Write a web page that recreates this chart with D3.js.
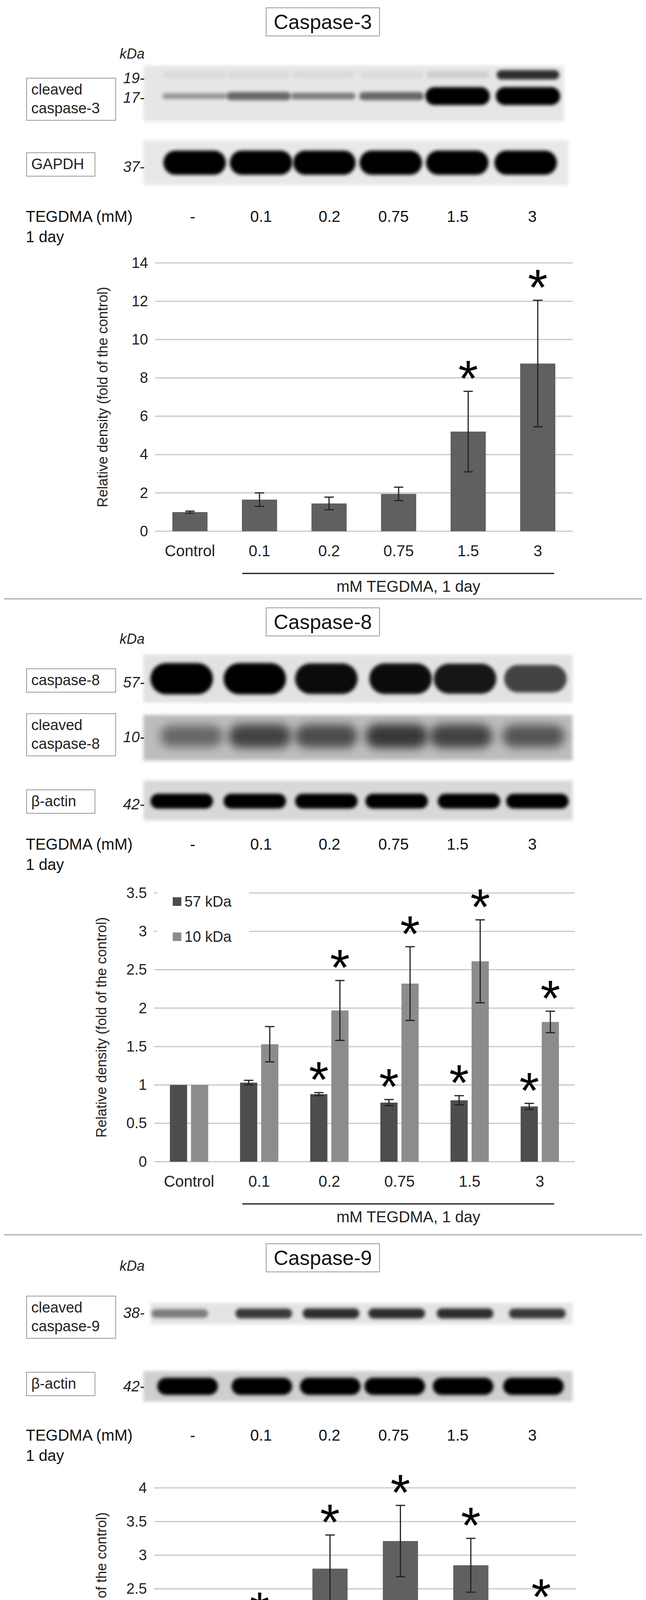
<!DOCTYPE html>
<html><head><meta charset="utf-8">
<script src="https://cdn.jsdelivr.net/npm/d3@7"></script>
<style>body{margin:0;background:#fff}svg{display:block;font-family:"Liberation Sans",Arial,sans-serif}</style>
</head><body><svg id="c" width="1653" height="4671"></svg>
<script>
const categories = ["Control","0.1","0.2","0.75","1.5","3"];
const laneLabels = ["-","0.1","0.2","0.75","1.5","3"];
const casp3Values = [1.0,1.65,1.45,1.95,5.2,8.75];
const casp3Errors = [0.05,0.35,0.33,0.35,2.1,3.3];
const casp3Stars = [false,false,false,false,true,true];
const casp3Ticks = [0,2,4,6,8,10,12,14];
const casp8Values57 = [1.0,1.03,0.88,0.77,0.80,0.72];
const casp8Errors57 = [0.0,0.03,0.02,0.04,0.06,0.04];
const casp8Values10 = [1.0,1.53,1.97,2.32,2.61,1.82];
const casp8Errors10 = [0.0,0.23,0.39,0.48,0.54,0.14];
const casp8Stars57 = [false,false,true,true,true,true];
const casp8Stars10 = [false,false,true,true,true,true];
const casp8Ticks = [0,0.5,1,1.5,2,2.5,3,3.5];
const casp9Values = [1.0,1.87,2.8,3.21,2.85,2.09];
const casp9Errors = [0.01,0.12,0.5,0.53,0.4,0.1];
const casp9Stars = [false,true,true,true,true,true];
const casp9Ticks = [0,0.5,1,1.5,2,2.5,3,3.5,4];
// blot band intensities (0..1) per lane
const blotC3cleaved17 = [0.35,0.55,0.45,0.55,1,1];
const blotC3cleaved19 = [0.05,0.05,0.05,0.05,0.1,0.8];
const blotGAPDH = [1,1,1,1,1,1];
const blotC8 = [1,1,0.95,0.95,0.9,0.7];
const blotC8cleaved = [0.45,0.65,0.6,0.7,0.65,0.55];
const blotActin8 = [1,1,1,1,1,1];
const blotC9cleaved = [0.45,0.75,0.8,0.8,0.8,0.75];
const blotActin9 = [1,1,1,1,1,1];

const svg = d3.select("#c");
const defs = svg.append("defs");
defs.append("filter").attr("id","blur").attr("x","-30%").attr("y","-100%").attr("width","160%").attr("height","300%")
  .append("feGaussianBlur").attr("stdDeviation","4");
defs.append("filter").attr("id","blur2").attr("x","-30%").attr("y","-100%").attr("width","160%").attr("height","300%")
  .append("feGaussianBlur").attr("stdDeviation","12");

function boxLabel(lines, x, y, fs, w, h){
  svg.append("rect").attr("x",x).attr("y",y).attr("width",w).attr("height",h).attr("fill","#fff").attr("stroke","#999").attr("stroke-width",2);
  lines.forEach((t,i)=>svg.append("text").attr("x",x+12).attr("y",y+fs*0.95+i*fs*1.25+6).attr("font-size",fs).attr("fill","#222").text(t));
}
function title(t, cy){
  const w=290,h=72;
  svg.append("rect").attr("x",826-w/2).attr("y",cy-h/2).attr("width",w).attr("height",h).attr("fill","#fff").attr("stroke","#999").attr("stroke-width",2);
  svg.append("text").attr("x",826).attr("y",cy+18).attr("text-anchor","middle").attr("font-size",52).attr("fill","#111").text(t);
}
function bands(g,data,centers,cy,bw,hFn,filt){
  g.selectAll(null).data(data).join("rect")
    .attr("x",(d,i)=>centers[i]-bw/2).attr("width",bw)
    .attr("y",d=>cy-hFn(d)/2).attr("height",d=>hFn(d))
    .attr("rx",d=>hFn(d)/2).attr("ry",d=>hFn(d)/2)
    .attr("fill","#000").attr("opacity",d=>d).attr("filter",`url(#${filt||"blur"})`);
}
function blot(x0,x1,y0,y1,bg,data,centers,bw,bh,offY,filt){
  svg.append("rect").attr("x",x0).attr("y",y0).attr("width",x1-x0).attr("height",y1-y0).attr("fill",bg).attr("filter","url(#blur)");
  bands(svg.append("g"),data,centers,(y0+y1)/2+offY,bw,d=>bh*(0.6+0.4*d),filt);
}
function mw(t,x,y){ svg.append("text").attr("x",x).attr("y",y).attr("text-anchor","end").attr("font-size",38).attr("font-style","italic").attr("fill","#222").text(t); }
function treatment(y){
  svg.append("text").attr("x",66).attr("y",y).attr("font-size",40).attr("fill","#111").text("TEGDMA (mM)");
  svg.append("text").attr("x",66).attr("y",y+52).attr("font-size",40).attr("fill","#111").text("1 day");
  const xs=[493,668,843,1007,1171,1362];
  laneLabels.forEach((t,i)=>svg.append("text").attr("x",xs[i]).attr("y",y).attr("text-anchor","middle").attr("font-size",40).attr("fill","#111").text(t));
}
function star(x,y){ svg.append("text").attr("x",x).attr("y",y+70).attr("text-anchor","middle").attr("font-size",130).attr("fill","#000").text("*"); }

function chart(o){
  const y = d3.scaleLinear().domain([0,o.max]).range([o.yb,o.yt]);
  const x = d3.scaleBand().domain(categories).range([o.x0,o.x1]).paddingInner(0).paddingOuter(0);
  const g = svg.append("g");
  g.selectAll("line.grid").data(o.ticks).join("line").attr("x1",o.x0).attr("x2",o.x1).attr("y1",d=>y(d)).attr("y2",d=>y(d)).attr("stroke","#c8c8c8").attr("stroke-width",3);
  const ax = g.append("g").attr("transform",`translate(${o.x0-10},0)`).call(d3.axisLeft(y).tickValues(o.ticks).tickFormat(d3.format("~g")).tickSize(0).tickPadding(8));
  ax.select(".domain").remove();
  ax.selectAll("text").attr("font-size",38).attr("fill","#222").attr("font-family","Liberation Sans, Arial");
  svg.append("text").attr("transform",`translate(${o.labX},${(o.yt+o.yb)/2}) rotate(-90)`).attr("text-anchor","middle").attr("font-size",36).attr("fill","#222")
    .text("Relative density  (fold of the control)");
  if(o.legend){
    svg.append("rect").attr("x",o.x0+8).attr("y",o.yt-20).attr("width",235).attr("height",y(2.75)-o.yt+20).attr("fill","#fff");
    o.legend.forEach((l,i)=>{
      const ly = y(3.5)+35+i*90;
      svg.append("rect").attr("x",o.x0+48).attr("y",ly-24).attr("width",22).attr("height",22).attr("fill",l.c);
      svg.append("text").attr("x",o.x0+78).attr("y",ly-0).attr("font-size",38).attr("fill","#222").text(l.t);
    });
  }
  o.series.forEach(s=>{
    const cx = (d,i)=>x(categories[i])+x.bandwidth()/2+s.off;
    g.selectAll(null).data(s.v).join("rect").attr("x",(d,i)=>cx(d,i)-s.w/2).attr("width",s.w).attr("y",d=>y(d)).attr("height",d=>y(0)-y(d)).attr("fill",s.c);
    s.v.forEach((d,i)=>{
      const e=s.e[i], c=cx(d,i);
      if(e>0.005){
        g.append("line").attr("x1",c).attr("x2",c).attr("y1",y(d-e)).attr("y2",y(d+e)).attr("stroke","#222").attr("stroke-width",3);
        [d-e,d+e].forEach(v=>g.append("line").attr("x1",c-12).attr("x2",c+12).attr("y1",y(v)).attr("y2",y(v)).attr("stroke","#222").attr("stroke-width",3));
      }
      if(s.s[i]) star(c, y(d+e)-58);
    });
  });
  categories.forEach(c=>svg.append("text").attr("x",x(c)+x.bandwidth()/2).attr("y",o.yb+64).attr("text-anchor","middle").attr("font-size",40).attr("fill","#222").text(c));
  svg.append("line").attr("x1",620).attr("x2",1418).attr("y1",o.yb+108).attr("y2",o.yb+108).attr("stroke","#111").attr("stroke-width",3);
  svg.append("text").attr("x",1045).attr("y",o.yb+155).attr("text-anchor","middle").attr("font-size",40).attr("fill","#222").text("mM TEGDMA,  1 day");
}

// Panel 1
title("Caspase-3",56);
svg.append("text").attr("x",370).attr("y",150).attr("text-anchor","end").attr("font-size",36).attr("font-style","italic").attr("fill","#222").text("kDa");
const c3L=[498,662,827,1002,1171,1351];
blot(367,1443,168,311,"#e6e6e6",blotC3cleaved19,c3L,160,26,-48);
bands(svg.append("g"),blotC3cleaved17,c3L,246,165,d=>10+36*d*d);
boxLabel(["cleaved","caspase-3"],68,200,38,228,108);
mw("19-",370,213); mw("17-",370,263);
blot(367,1454,359,474,"#e8e8e8",blotGAPDH,[498,668,830,1000,1170,1345],160,62,0);
boxLabel(["GAPDH"],68,391,38,175,60);
mw("37-",370,440);
treatment(568);
chart({max:14,ticks:casp3Ticks,yt:673,yb:1360,x0:397,x1:1465,labX:275,series:[{v:casp3Values,e:casp3Errors,s:casp3Stars,c:"#606060",w:90,off:0}]});
svg.append("line").attr("x1",10).attr("x2",1643).attr("y1",1533).attr("y2",1533).attr("stroke","#aaa").attr("stroke-width",3);

// Panel 2
title("Caspase-8",1592);
svg.append("text").attr("x",370).attr("y",1648).attr("text-anchor","end").attr("font-size",36).attr("font-style","italic").attr("fill","#222").text("kDa");
blot(367,1465,1676,1799,"#e2e2e2",blotC8,[465,652,835,1025,1190,1370],160,80,0);
boxLabel(["caspase-8"],68,1712,38,228,60);
mw("57-",370,1760);
blot(367,1465,1830,1947,"#bdbdbd",blotC8cleaved,[490,665,835,1015,1180,1365],160,70,-4,"blur2");
boxLabel(["cleaved","caspase-8"],68,1827,38,228,108);
mw("10-",370,1900);
blot(367,1465,1998,2100,"#d8d8d8",blotActin8,[465,652,835,1015,1200,1375],160,38,2);
boxLabel(["β-actin"],68,2022,38,175,60);
mw("42-",370,2072);
treatment(2175);
chart({max:3.5,ticks:casp8Ticks,yt:2286,yb:2974,x0:394,x1:1471,labX:272,
  legend:[{t:"57 kDa",c:"#4d4d4d"},{t:"10 kDa",c:"#8c8c8c"}],
  series:[{v:casp8Values57,e:casp8Errors57,s:casp8Stars57,c:"#4d4d4d",w:44,off:-27},{v:casp8Values10,e:casp8Errors10,s:casp8Stars10,c:"#8c8c8c",w:44,off:27}]});
svg.append("line").attr("x1",10).attr("x2",1643).attr("y1",3161).attr("y2",3161).attr("stroke","#aaa").attr("stroke-width",3);

// Panel 3
title("Caspase-9",3220);
svg.append("text").attr("x",370).attr("y",3253).attr("text-anchor","end").attr("font-size",36).attr("font-style","italic").attr("fill","#222").text("kDa");
blot(385,1465,3335,3390,"#e4e4e4",blotC9cleaved,[460,675,847,1015,1190,1375],145,28,0);
boxLabel(["cleaved","caspase-9"],68,3318,38,228,108);
mw("38-",370,3374);
blot(367,1465,3510,3588,"#cfcfcf",blotActin9,[480,670,845,1010,1185,1365],155,44,0);
boxLabel(["β-actin"],68,3513,38,175,60);
mw("42-",370,3562);
treatment(3688);
chart({max:4,ticks:casp9Ticks,yt:3809,yb:4498,x0:394,x1:1475,labX:272,series:[{v:casp9Values,e:casp9Errors,s:casp9Stars,c:"#606060",w:90,off:0}]});
</script></body></html>
